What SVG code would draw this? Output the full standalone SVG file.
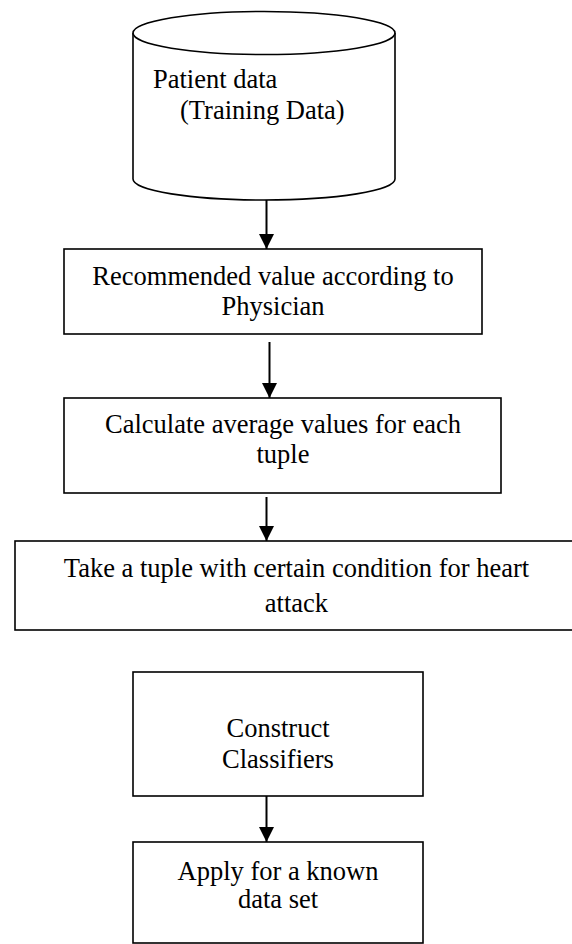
<svg xmlns="http://www.w3.org/2000/svg" width="572" height="944" viewBox="0 0 572 944">
<style>
  .shape { fill: #fff; stroke: #000; stroke-width: 1.6; }
  .lbl { font-family: "Liberation Serif", "Times New Roman", serif; font-size: 26.5px; fill: #000; }
  .mid { text-anchor: middle; }
  .conn { stroke: #000; stroke-width: 2; fill: none; marker-end: url(#arrow); }
</style>
<defs>
  <marker id="arrow" markerUnits="userSpaceOnUse" markerWidth="15" markerHeight="15" refX="15" refY="7.5" orient="auto">
    <path d="M0,0 L15,7.5 L0,15 z" fill="#000"/>
  </marker>
</defs>
<rect width="572" height="944" fill="#fff"/>
<g id="patient-data">
  <path class="shape" d="M133,33 L133,179 A131,21 0 0 0 395,179 L395,33"/>
  <ellipse class="shape" cx="264" cy="33" rx="131" ry="21.5"/>
  <text class="lbl" x="153" y="88">Patient data</text>
  <text class="lbl" x="180" y="119">(Training Data)</text>
</g>
<g id="recommended">
  <rect class="shape" x="64" y="249" width="418" height="85"/>
  <text class="lbl mid" x="273" y="285">Recommended value according to</text>
  <text class="lbl mid" x="273" y="315">Physician</text>
</g>
<g id="calculate">
  <rect class="shape" x="64" y="398" width="437" height="95"/>
  <text class="lbl mid" x="283" y="433">Calculate average values for each</text>
  <text class="lbl mid" x="283" y="463">tuple</text>
</g>
<g id="take-tuple">
  <rect class="shape" x="15" y="541" width="563" height="89"/>
  <text class="lbl mid" x="296.5" y="577">Take a tuple with certain condition for heart</text>
  <text class="lbl mid" x="296.5" y="612">attack</text>
</g>
<g id="construct">
  <rect class="shape" x="133" y="672" width="290" height="124"/>
  <text class="lbl mid" x="278" y="737">Construct</text>
  <text class="lbl mid" x="278" y="768">Classifiers</text>
</g>
<g id="apply">
  <rect class="shape" x="133" y="842" width="290" height="101"/>
  <text class="lbl mid" x="278" y="880">Apply for a known</text>
  <text class="lbl mid" x="278" y="908">data set</text>
</g>
<g id="connectors">
  <line class="conn" x1="266.5" y1="200" x2="266.5" y2="249"/>
  <line class="conn" x1="269.5" y1="342" x2="269.5" y2="398"/>
  <line class="conn" x1="266.5" y1="497" x2="266.5" y2="541"/>
  <line class="conn" x1="266.5" y1="796" x2="266.5" y2="842"/>
</g>
</svg>
